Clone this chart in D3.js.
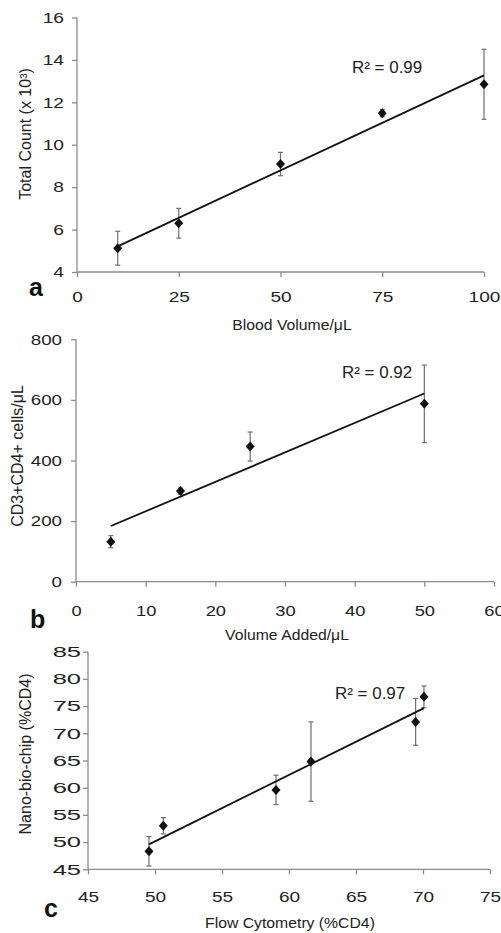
<!DOCTYPE html>
<html>
<head>
<meta charset="utf-8">
<script src="https://cdn.jsdelivr.net/npm/d3@7"></script>
<style>
  body { margin: 0; background: #fff; }
  svg text { font-family: Arial, "Liberation Sans", sans-serif; fill: #222; }
  .axis path, .axis line { stroke: #8c8c8c; stroke-width: 1.3; }
  .axis text { font-size: 15px; }
</style>
</head>
<body>
<div id="chart"></div>
<script>
// panel a
var bloodVolume = [10, 25, 50, 75, 100];
var totalCount = [5.12, 6.3, 9.09, 11.49, 12.85];
var totalCountErr = [0.8, 0.7, 0.55, 0.17, 1.65];
var aXTicks = [0, 25, 50, 75, 100];
var aYTicks = [4, 6, 8, 10, 12, 14, 16];

// panel b
var volumeAdded = [5, 15, 25, 50];
var cd4Cells = [132, 299, 446, 587];
var cd4CellsErr = [20, 10, 48, 128];
var bXTicks = [0, 10, 20, 30, 40, 50, 60];
var bYTicks = [0, 200, 400, 600, 800];

// panel c
var flowCyto = [49.55, 50.62, 59.03, 61.64, 69.45, 70.07];
var nanoChip = [48.3, 53.0, 59.6, 64.8, 72.1, 76.7];
var nanoChipErr = [2.7, 1.5, 2.7, 7.3, 4.3, 2.0];
var cXTicks = [45, 50, 55, 60, 65, 70, 75];
var cYTicks = [45, 50, 55, 60, 65, 70, 75, 80, 85];

var svgWidth = 501;
var svgHeight = 933;

var svg = d3.select("#chart")
  .append("svg")
  .attr("width", svgWidth)
  .attr("height", svgHeight);

function linFit(xs, ys) {
  var mx = d3.mean(xs), my = d3.mean(ys);
  var sxy = d3.sum(xs, (x, i) => (x - mx) * (ys[i] - my));
  var sxx = d3.sum(xs, x => (x - mx) * (x - mx));
  var slope = sxy / sxx;
  return { slope: slope, intercept: my - slope * mx };
}

// the source figure's text is a bit wider than plain Arial
function stretch(sel, k) {
  sel.each(function() {
    var len = this.getComputedTextLength();
    d3.select(this)
      .attr("textLength", len * k)
      .attr("lengthAdjust", "spacingAndGlyphs");
  });
}

function drawPanel(p) {
  var x = d3.scaleLinear().domain(p.xDomain).range(p.xRange);
  var y = d3.scaleLinear().domain(p.yDomain).range(p.yRange);

  var xAxis = svg.append("g")
    .attr("class", "axis")
    .attr("transform", `translate(0, ${p.yRange[0]})`)
    .call(d3.axisBottom(x).tickValues(p.xTicks).tickSize(5).tickPadding(p.xPad).tickSizeOuter(0));
  xAxis.select(".domain").attr("d", `M${p.xRange[0]},0H${p.xRange[1]}`);
  stretch(xAxis.selectAll("text"), p.xStretch);

  var yAxis = svg.append("g")
    .attr("class", "axis")
    .attr("transform", `translate(${p.xRange[0]}, 0)`)
    .call(d3.axisLeft(y).tickValues(p.yTicks).tickSize(5).tickPadding(p.yPad).tickSizeOuter(0));
  yAxis.select(".domain").attr("d", `M0,${p.yRange[0]}V${p.yRange[1]}`);
  stretch(yAxis.selectAll("text"), p.yStretch);

  var pts = p.xs.map((v, i) => ({ x: v, y: p.ys[i], e: p.errs[i] }));

  // error bars
  var eb = svg.append("g").attr("stroke", "#6e6e6e").attr("stroke-width", 1.2);
  pts.forEach(function(d) {
    eb.append("line")
      .attr("x1", x(d.x)).attr("x2", x(d.x))
      .attr("y1", y(d.y - d.e)).attr("y2", y(d.y + d.e));
    [d.y - d.e, d.y + d.e].forEach(function(v) {
      eb.append("line")
        .attr("x1", x(d.x) - 2.5).attr("x2", x(d.x) + 2.5)
        .attr("y1", y(v)).attr("y2", y(v));
    });
  });

  // trend line
  var fit = linFit(p.xs, p.ys);
  var x0 = d3.min(p.xs), x1 = d3.max(p.xs);
  svg.append("line")
    .attr("x1", x(x0)).attr("y1", y(fit.intercept + fit.slope * x0))
    .attr("x2", x(x1)).attr("y2", y(fit.intercept + fit.slope * x1))
    .attr("stroke", "#111")
    .attr("stroke-width", 1.8);

  // diamonds
  svg.selectAll(null)
    .data(pts)
    .enter()
    .append("path")
    .attr("d", "M0,-5L4.5,0L0,5L-4.5,0Z")
    .attr("transform", d => `translate(${x(d.x)}, ${y(d.y)})`)
    .attr("fill", "#111");

  var r2 = svg.append("text")
    .attr("x", p.r2[0]).attr("y", p.r2[1])
    .attr("font-size", 16)
    .text(p.r2Text);
  stretch(r2, 1.06);

  var xl = svg.append("text")
    .attr("x", p.xLabelPos[0]).attr("y", p.xLabelPos[1])
    .attr("text-anchor", "middle")
    .attr("font-size", 15)
    .text(p.xLabel);
  stretch(xl, 1.05);

  svg.append("text")
    .attr("transform", `translate(${p.yLabelPos[0]}, ${p.yLabelPos[1]}) rotate(-90)`)
    .attr("text-anchor", "middle")
    .attr("font-size", 16)
    .text(p.yLabel);

  svg.append("text")
    .attr("x", p.letterPos[0]).attr("y", p.letterPos[1])
    .attr("font-size", 25)
    .attr("font-weight", "bold")
    .style("fill", "#111")
    .text(p.letter);
}

drawPanel({
  xDomain: [0, 100], xRange: [77, 484],
  yDomain: [4, 16], yRange: [272, 17.5],
  xTicks: aXTicks, yTicks: aYTicks, xPad: 14, yPad: 8,
  xStretch: 1.27, yStretch: 1.28,
  xs: bloodVolume, ys: totalCount, errs: totalCountErr,
  r2: [352, 73], r2Text: "R² = 0.99",
  xLabel: "Blood Volume/μL", xLabelPos: [292, 330],
  yLabel: "Total Count (x 10³)", yLabelPos: [31, 134],
  letter: "a", letterPos: [29, 296]
});

drawPanel({
  xDomain: [0, 60], xRange: [76, 494],
  yDomain: [0, 800], yRange: [581.7, 339.3],
  xTicks: bXTicks, yTicks: bYTicks, xPad: 19, yPad: 9,
  xStretch: 1.22, yStretch: 1.25,
  xs: volumeAdded, ys: cd4Cells, errs: cd4CellsErr,
  r2: [342, 378], r2Text: "R² = 0.92",
  xLabel: "Volume Added/μL", xLabelPos: [287, 640],
  yLabel: "CD3+CD4+ cells/μL", yLabelPos: [23, 456],
  letter: "b", letterPos: [30, 628]
});

drawPanel({
  xDomain: [45, 75], xRange: [88, 490],
  yDomain: [45, 85], yRange: [869.3, 651.7],
  xTicks: cXTicks, yTicks: cYTicks, xPad: 17, yPad: 2,
  xStretch: 1.27, yStretch: 1.7,
  xs: flowCyto, ys: nanoChip, errs: nanoChipErr,
  r2: [335, 699], r2Text: "R² = 0.97",
  xLabel: "Flow Cytometry (%CD4)", xLabelPos: [290, 928],
  yLabel: "Nano-bio-chip (%CD4)", yLabelPos: [31, 754],
  letter: "c", letterPos: [44, 917]
});
</script>
</body>
</html>
